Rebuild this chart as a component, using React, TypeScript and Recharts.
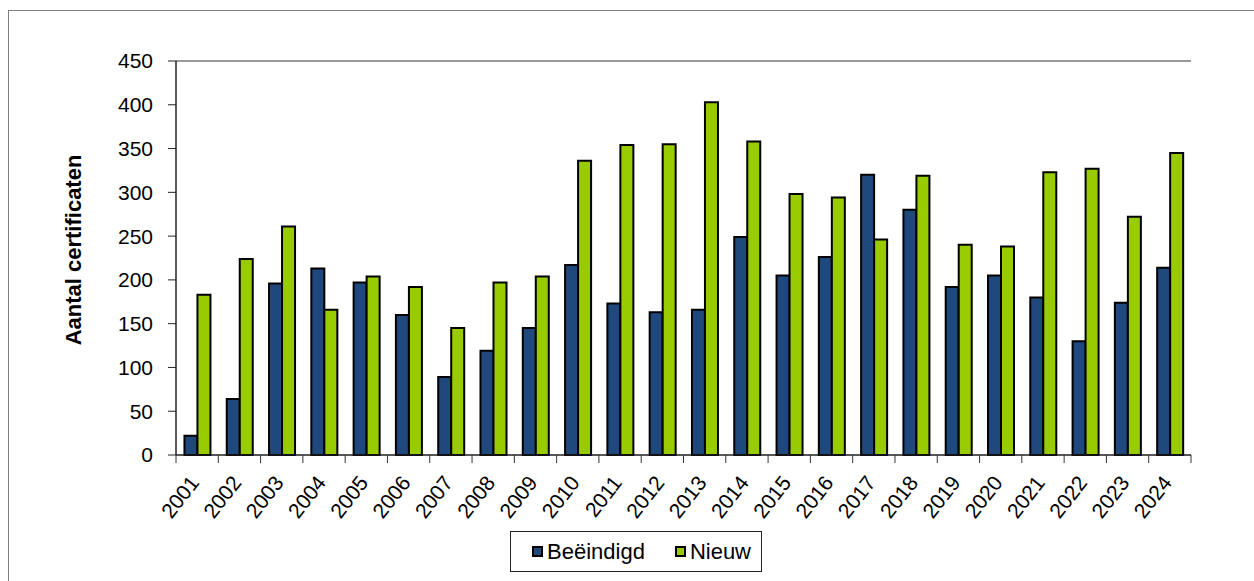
import React from 'react'
import { BarChart, Bar, XAxis, YAxis, CartesianGrid, ReferenceLine } from 'recharts'

const years = [
  '2001', '2002', '2003', '2004', '2005', '2006', '2007', '2008', '2009', '2010', '2011', '2012',
  '2013', '2014', '2015', '2016', '2017', '2018', '2019', '2020', '2021', '2022', '2023', '2024'
]
const beeindigd = [22, 64, 196, 213, 197, 160, 89, 119, 145, 217, 173, 163, 166, 249, 205, 226, 320, 280, 192, 205, 180, 130, 174, 214]
const nieuw = [183, 224, 261, 166, 204, 192, 145, 197, 204, 336, 354, 355, 403, 358, 298, 294, 246, 319, 240, 238, 323, 327, 272, 345]
const yTicks = [0, 50, 100, 150, 200, 250, 300, 350, 400, 450]

const seriesNames = ['Beëindigd', 'Nieuw']
const colors = ['#1f497d', '#99cc00']

const data = years.map((year, i) => ({ year, beeindigd: beeindigd[i], nieuw: nieuw[i] }))

// plot area in page pixels
const PLOT_LEFT = 176
const PLOT_RIGHT = 1191
const PLOT_TOP = 61
const PLOT_BOTTOM = 455
const CHART_W = 1254
const CHART_H = 581
const Y_AXIS_W = 100
const X_AXIS_H = 70
const BAND = (PLOT_RIGHT - PLOT_LEFT) / years.length

const font = 'Arial, "Liberation Sans", sans-serif'

const XTick = (props: any) => {
  const { x, payload, index } = props
  const tx = x + 3
  const ty = PLOT_BOTTOM + 28
  return (
    <g>
      <line x1={x - BAND / 2} y1={PLOT_BOTTOM} x2={x - BAND / 2} y2={PLOT_BOTTOM + 8} stroke="#333" strokeWidth={1} />
      {index === years.length - 1 && (
        <line x1={x + BAND / 2} y1={PLOT_BOTTOM} x2={x + BAND / 2} y2={PLOT_BOTTOM + 8} stroke="#333" strokeWidth={1} />
      )}
      <text x={tx} y={ty} textAnchor="end" fontSize={21} fontFamily={font} fill="#000"
        transform={`rotate(-52, ${tx}, ${ty})`}>
        {payload.value}
      </text>
    </g>
  )
}

const App = () => {
  return (
    <div style={{ position: 'absolute', left: 0, top: 0, width: CHART_W, height: CHART_H, background: '#fff' }}>
      <div style={{
        position: 'absolute', left: 8, top: 10, width: CHART_W, height: CHART_H,
        borderTop: '1px solid #808080', borderLeft: '1px solid #808080'
      }} />
      <div style={{ position: 'absolute', left: 0, top: 0 }}>
        <BarChart
          width={CHART_W}
          height={CHART_H}
          data={data}
          barCategoryGap="20%"
          barGap={0}
          margin={{
            top: PLOT_TOP,
            right: CHART_W - PLOT_RIGHT,
            left: PLOT_LEFT - Y_AXIS_W,
            bottom: CHART_H - PLOT_BOTTOM - X_AXIS_H
          }}
        >
          <CartesianGrid horizontal vertical={false} stroke="#1a1a1a" strokeWidth={1} />
          <XAxis
            dataKey="year"
            height={X_AXIS_H}
            interval={0}
            tickLine={false}
            axisLine={{ stroke: '#222', strokeWidth: 1 }}
            tick={<XTick />}
          />
          <YAxis
            yAxisId="left"
            width={Y_AXIS_W}
            domain={[0, 450]}
            ticks={yTicks}
            interval={0}
            tickSize={8}
            tickMargin={15}
            axisLine={{ stroke: '#222', strokeWidth: 1.5 }}
            tickLine={{ stroke: '#222' }}
            tick={{ fontSize: 21, fontFamily: font, fill: '#000' }}
            label={{
              value: 'Aantal certificaten',
              angle: -90,
              position: 'insideLeft',
              offset: 0,
              dx: -3,
              dy: -8,
              style: { fontSize: 22, fontWeight: 'bold', fontFamily: font, fill: '#000', textAnchor: 'middle' }
            }}
          />
          <YAxis
            yAxisId="right"
            orientation="right"
            width={0}
            domain={[0, 450]}
            tick={false}
            tickLine={false}
            axisLine={{ stroke: '#999', strokeWidth: 2 }}
          />
          <ReferenceLine yAxisId="left" y={450} stroke="#999" strokeWidth={2} />
          <Bar yAxisId="left" dataKey="beeindigd" name={seriesNames[0]} fill={colors[0]}
            stroke="#000" strokeWidth={2} isAnimationActive={false} />
          <Bar yAxisId="left" dataKey="nieuw" name={seriesNames[1]} fill={colors[1]}
            stroke="#000" strokeWidth={2} isAnimationActive={false} />
        </BarChart>
      </div>
      <div style={{
        position: 'absolute', left: 510, top: 531, width: 252, height: 41, boxSizing: 'border-box',
        border: '1px solid #222', display: 'flex', alignItems: 'center', justifyContent: 'flex-start',
        paddingLeft: 21, fontFamily: font, fontSize: 22, color: '#000', gap: 30
      }}>
        {seriesNames.map((name, i) => (
          <div key={name} style={{ display: 'flex', alignItems: 'center' }}>
            <span style={{
              display: 'inline-block', width: 7, height: 7, background: colors[i],
              border: '2px solid #000', marginRight: 4
            }} />
            <span>{name}</span>
          </div>
        ))}
      </div>
    </div>
  )
}

export default App
